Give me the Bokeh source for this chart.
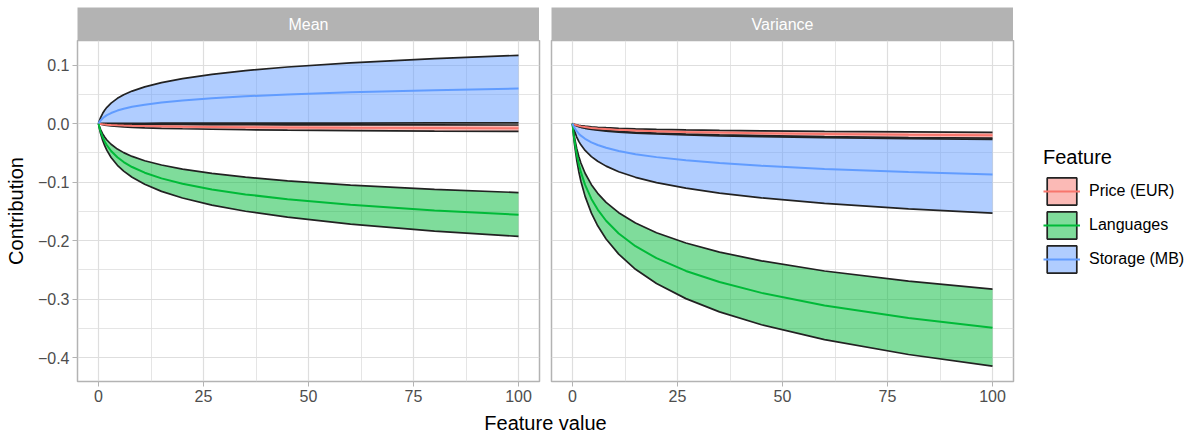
from bokeh.plotting import figure
from bokeh.layouts import row, column
from bokeh.models import Range1d, FixedTicker, Label, Legend, LegendItem
from bokeh.embed import file_html
from bokeh.resources import INLINE

# ---------------- data ----------------
x_values = [0, 0.25, 0.5, 1, 1.5, 2, 3, 4.5, 6, 8, 11, 15, 20, 27, 35, 45, 60, 80, 100]

features = ["Price (EUR)", "Languages", "Storage (MB)"]
panels = ["Mean", "Variance"]

mean_price_lo = [0, -0.0007, -0.0012, -0.0020, -0.0027, -0.0032, -0.0041, -0.0050, -0.0057, -0.0064, -0.0073, -0.0081, -0.0089, -0.0097, -0.0105, -0.0112, -0.0120, -0.0129, -0.0135]
mean_price_mid = [0, -0.0004, -0.0007, -0.0012, -0.0016, -0.0019, -0.0024, -0.0030, -0.0034, -0.0038, -0.0043, -0.0048, -0.0053, -0.0058, -0.0062, -0.0066, -0.0071, -0.0076, -0.0080]
mean_price_hi = [0, -0.0001, -0.0002, -0.0004, -0.0005, -0.0006, -0.0008, -0.0009, -0.0011, -0.0012, -0.0013, -0.0015, -0.0016, -0.0018, -0.0019, -0.0021, -0.0022, -0.0024, -0.0025]

mean_lang_lo = [0, -0.0093, -0.0170, -0.0290, -0.0383, -0.0459, -0.0580, -0.0713, -0.0814, -0.0919, -0.1039, -0.1160, -0.1273, -0.1394, -0.1499, -0.1601, -0.1719, -0.1838, -0.1930]
mean_lang_mid = [0, -0.0075, -0.0137, -0.0234, -0.0310, -0.0371, -0.0469, -0.0576, -0.0658, -0.0743, -0.0840, -0.0937, -0.1029, -0.1126, -0.1211, -0.1294, -0.1390, -0.1485, -0.1560]
mean_lang_hi = [0, -0.0057, -0.0104, -0.0177, -0.0234, -0.0281, -0.0354, -0.0436, -0.0497, -0.0562, -0.0635, -0.0709, -0.0778, -0.0852, -0.0916, -0.0979, -0.1051, -0.1124, -0.1180]

mean_stor_lo = [0, 0.0000, 0.0001, 0.0002, 0.0002, 0.0002, 0.0003, 0.0004, 0.0004, 0.0005, 0.0005, 0.0006, 0.0007, 0.0007, 0.0008, 0.0008, 0.0009, 0.0010, 0.0010]
mean_stor_mid = [0, 0.0029, 0.0053, 0.0090, 0.0119, 0.0143, 0.0180, 0.0222, 0.0253, 0.0286, 0.0323, 0.0360, 0.0396, 0.0433, 0.0466, 0.0498, 0.0534, 0.0571, 0.0600]
mean_stor_hi = [0, 0.0056, 0.0103, 0.0175, 0.0232, 0.0278, 0.0350, 0.0431, 0.0492, 0.0555, 0.0628, 0.0701, 0.0769, 0.0842, 0.0905, 0.0967, 0.1039, 0.1110, 0.1166]

var_price_lo = [0, -0.0012, -0.0022, -0.0038, -0.0050, -0.0060, -0.0075, -0.0092, -0.0105, -0.0119, -0.0135, -0.0150, -0.0165, -0.0181, -0.0194, -0.0207, -0.0223, -0.0238, -0.0250]
var_price_mid = [0, -0.0010, -0.0018, -0.0030, -0.0040, -0.0048, -0.0060, -0.0074, -0.0084, -0.0095, -0.0108, -0.0120, -0.0132, -0.0144, -0.0155, -0.0166, -0.0178, -0.0190, -0.0200]
var_price_hi = [0, -0.0007, -0.0013, -0.0023, -0.0030, -0.0036, -0.0045, -0.0055, -0.0063, -0.0071, -0.0081, -0.0090, -0.0099, -0.0108, -0.0116, -0.0124, -0.0134, -0.0143, -0.0150]

var_lang_lo = [0, -0.0201, -0.0364, -0.0623, -0.0823, -0.0987, -0.1245, -0.1532, -0.1748, -0.1974, -0.2232, -0.2491, -0.2735, -0.2993, -0.3219, -0.3440, -0.3693, -0.3948, -0.4146]
var_lang_mid = [0, -0.0169, -0.0307, -0.0524, -0.0693, -0.0831, -0.1048, -0.1289, -0.1471, -0.1662, -0.1879, -0.2097, -0.2302, -0.2520, -0.2710, -0.2895, -0.3109, -0.3323, -0.3490]
var_lang_hi = [0, -0.0137, -0.0249, -0.0425, -0.0562, -0.0674, -0.0850, -0.1045, -0.1193, -0.1347, -0.1524, -0.1700, -0.1867, -0.2043, -0.2197, -0.2348, -0.2521, -0.2695, -0.2830]

var_stor_lo = [0, -0.0074, -0.0134, -0.0230, -0.0304, -0.0364, -0.0460, -0.0565, -0.0645, -0.0728, -0.0824, -0.0919, -0.1009, -0.1105, -0.1188, -0.1269, -0.1363, -0.1457, -0.1530]
var_stor_mid = [0, -0.0042, -0.0076, -0.0131, -0.0173, -0.0207, -0.0261, -0.0321, -0.0367, -0.0414, -0.0468, -0.0523, -0.0574, -0.0628, -0.0676, -0.0722, -0.0775, -0.0828, -0.0870]
var_stor_hi = [0, -0.0013, -0.0024, -0.0041, -0.0054, -0.0064, -0.0081, -0.0100, -0.0114, -0.0129, -0.0145, -0.0162, -0.0178, -0.0195, -0.0210, -0.0224, -0.0240, -0.0257, -0.0270]

x_ticks = [0, 25, 50, 75, 100]
x_tick_labels = ["0", "25", "50", "75", "100"]
x_minor = [12.5, 37.5, 62.5, 87.5]
y_ticks = [-0.4, -0.3, -0.2, -0.1, 0.0, 0.1]
y_tick_labels = ["\u22120.4", "\u22120.3", "\u22120.2", "\u22120.1", "0.0", "0.1"]
y_minor = [-0.35, -0.25, -0.15, -0.05, 0.05]

# ---------------- styling ----------------
FONT = "Liberation Sans"
colors = ["#F8766D", "#00BA38", "#619CFF"]
OUTLINE = "#222222"
GRID = "#DEDEDE"
BORDER = "#B3B3B3"
NAN = float("nan")

series = {
    "Mean": [(mean_price_lo, mean_price_mid, mean_price_hi),
             (mean_lang_lo, mean_lang_mid, mean_lang_hi),
             (mean_stor_lo, mean_stor_mid, mean_stor_hi)],
    "Variance": [(var_price_lo, var_price_mid, var_price_hi),
                 (var_lang_lo, var_lang_mid, var_lang_hi),
                 (var_stor_lo, var_stor_mid, var_stor_hi)],
}

FRAME_W = 462
FRAME_H = 341
LEFT_W = 77


def make_strip(name, left_border):
    s = figure(frame_width=FRAME_W, frame_height=33, x_range=Range1d(0, 1), y_range=Range1d(0, 1),
               x_axis_location=None, y_axis_location=None, title=None,
               output_backend="svg", toolbar_location=None,
               min_border_left=left_border, min_border_right=0, min_border_top=7, min_border_bottom=0)
    s.grid.visible = False
    s.outline_line_color = None
    s.background_fill_color = BORDER
    s.border_fill_color = "white"
    s.add_layout(Label(x=0.5, y=0.5, text=name, text_align="center", text_baseline="middle",
                       text_font=FONT, text_font_size="16px", text_color="white"))
    return s


def make_panel(name, show_y):
    p = figure(frame_width=FRAME_W, frame_height=FRAME_H,
               x_range=Range1d(-5, 105), y_range=Range1d(-0.441, 0.142),
               x_axis_location="below", y_axis_location="left" if show_y else None,
               title=None, output_backend="svg", toolbar_location=None,
               min_border_left=LEFT_W if show_y else 6, min_border_right=6,
               min_border_top=0, min_border_bottom=29)
    p.outline_line_color = BORDER
    p.outline_line_width = 1.5
    p.background_fill_color = "white"

    xt = FixedTicker(ticks=x_ticks, minor_ticks=x_minor)
    yt = FixedTicker(ticks=y_ticks, minor_ticks=y_minor)
    p.xgrid.ticker = xt
    p.ygrid.ticker = yt
    for g in (p.xgrid, p.ygrid):
        g.grid_line_color = GRID
        g.grid_line_width = 1.2
        g.minor_grid_line_color = GRID
        g.minor_grid_line_width = 0.8

    axes = [p.xaxis[0]] + ([p.yaxis[0]] if show_y else [])
    for ax in axes:
        ax.axis_line_color = None
        ax.major_tick_line_color = BORDER
        ax.major_tick_line_width = 1
        ax.major_tick_out = 5
        ax.major_tick_in = 0
        ax.minor_tick_line_color = None
        ax.major_label_text_font = FONT
        ax.major_label_text_font_size = "16px"
        ax.major_label_text_color = "#4D4D4D"
        ax.major_label_standoff = 3
    p.xaxis[0].ticker = xt
    p.xaxis[0].axis_label_standoff = 0
    p.xaxis[0].major_label_overrides = {float(t): l for t, l in zip(x_ticks, x_tick_labels)}
    if show_y:
        ya = p.yaxis[0]
        ya.ticker = yt
        ya.major_label_overrides = {t: l for t, l in zip(y_ticks, y_tick_labels)}
        ya.axis_label = "Contribution"
        ya.axis_label_text_font = FONT
        ya.axis_label_text_font_size = "20px"
        ya.axis_label_text_font_style = "normal"
        ya.axis_label_text_color = "black"
        ya.axis_label_standoff = 8

    mids = []
    for (lo, mid, hi), col in zip(series[name], colors):
        p.varea(x=x_values, y1=lo, y2=hi, fill_color=col, fill_alpha=0.5)
        p.line(x=x_values, y=hi, line_color=OUTLINE, line_width=1.7)
        p.line(x=x_values, y=lo, line_color=OUTLINE, line_width=1.7)
    for (lo, mid, hi), col in zip(series[name], colors):
        mids.append(p.line(x=x_values, y=mid, line_color=col, line_width=2.0))
    return p, mids


sL = make_strip("Mean", LEFT_W)
pL, _ = make_panel("Mean", True)
sR = make_strip("Variance", 6)
pR, midsR = make_panel("Variance", False)

items = []
for feat, col, mr in zip(features, colors, midsR):
    # legend-only proxy (NaN data: never drawn in the panel)
    box = pR.quad(left=[NAN], right=[NAN], top=[NAN], bottom=[NAN], fill_color=col, fill_alpha=0.5,
                  line_color=OUTLINE, line_width=1.7)
    items.append(LegendItem(label=feat, renderers=[box, mr]))

legend = Legend(items=items, title="Feature", location="center_left",
                title_text_font=FONT, title_text_font_size="20px", title_text_font_style="normal",
                title_text_color="black", title_standoff=5,
                label_text_font=FONT, label_text_font_size="16px", label_text_color="black",
                label_standoff=9, glyph_width=37, glyph_height=34, spacing=0,
                padding=0, margin=30, border_line_color=None, background_fill_alpha=0)
pR.add_layout(legend, "right")

pX = figure(frame_width=1012, frame_height=25, x_range=Range1d(0, 1012), y_range=Range1d(0, 25),
            x_axis_location=None, y_axis_location=None, title=None,
            output_backend="svg", toolbar_location=None,
            min_border_left=0, min_border_right=0, min_border_top=0, min_border_bottom=0)
pX.grid.visible = False
pX.outline_line_color = None
pX.add_layout(Label(x=545, y=12.5, text="Feature value", text_align="center", text_baseline="middle",
                    text_font=FONT, text_font_size="20px", text_color="black"))

layout = column(row(column(sL, pL), column(sR, pR)), pX)

open("out.html", "w").write(file_html(layout, INLINE))
